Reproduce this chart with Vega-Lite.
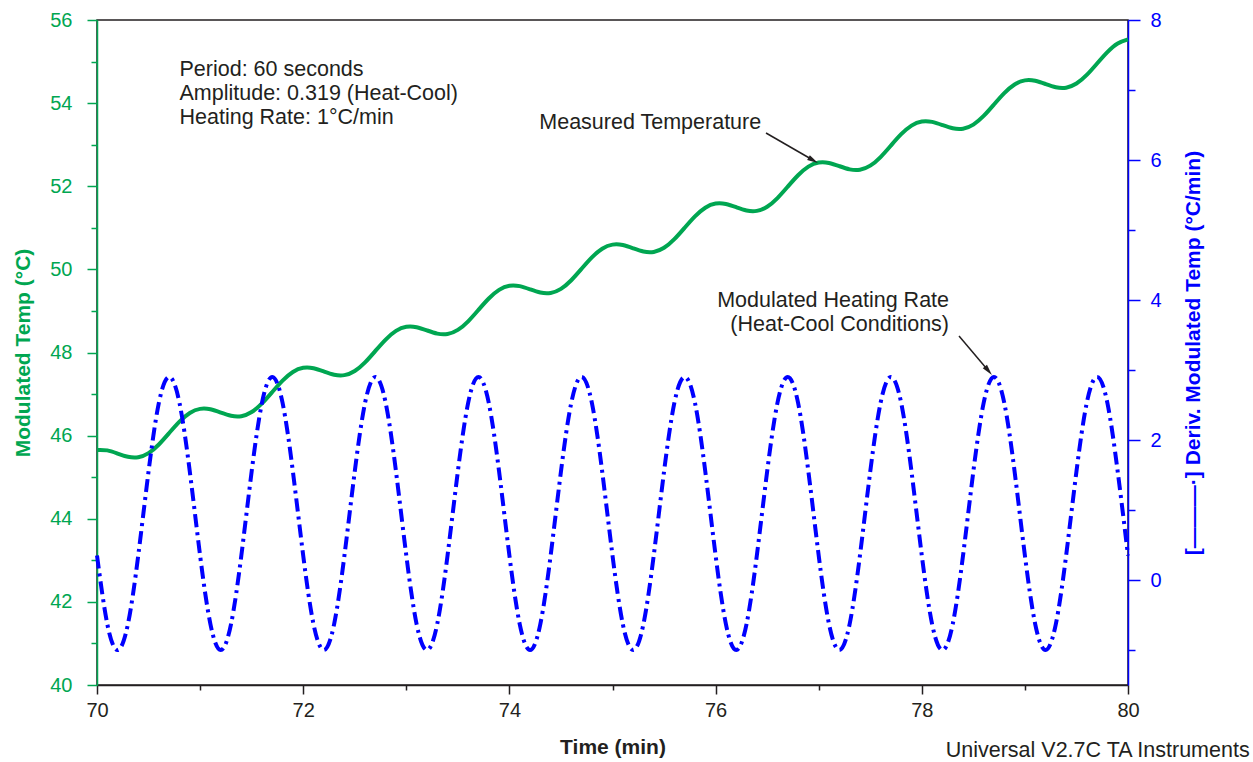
{
  "$schema": "https://vega.github.io/schema/vega-lite/v6.json",
  "width": 1031,
  "height": 665,
  "autosize": {"type": "none"},
  "padding": {"left": 97, "top": 20, "right": 125, "bottom": 77},
  "background": "white",
  "config": {
    "font": "Liberation Sans",
    "view": {"stroke": "#231F20", "strokeWidth": 1.5},
    "axis": {"grid": false, "labelFont": "Liberation Sans", "titleFont": "Liberation Sans"}
  },
  "datasets": {
    "curves": [
      {"t": 70.0, "temp": 45.655, "rate": 0.35},
      {"t": 70.1, "temp": 45.645, "rate": -0.63},
      {"t": 70.2, "temp": 45.568, "rate": -1.0},
      {"t": 70.3, "temp": 45.490, "rate": -0.63},
      {"t": 70.4, "temp": 45.480, "rate": 0.35},
      {"t": 70.5, "temp": 45.579, "rate": 1.55},
      {"t": 70.6, "temp": 45.787, "rate": 2.53},
      {"t": 70.7, "temp": 46.062, "rate": 2.9},
      {"t": 70.8, "temp": 46.336, "rate": 2.53},
      {"t": 70.9, "temp": 46.544, "rate": 1.55},
      {"t": 71.0, "temp": 46.643, "rate": 0.35},
      {"t": 71.1, "temp": 46.633, "rate": -0.63},
      {"t": 71.2, "temp": 46.556, "rate": -1.0},
      {"t": 71.3, "temp": 46.478, "rate": -0.63},
      {"t": 71.4, "temp": 46.468, "rate": 0.35},
      {"t": 71.5, "temp": 46.567, "rate": 1.55},
      {"t": 71.6, "temp": 46.775, "rate": 2.53},
      {"t": 71.7, "temp": 47.050, "rate": 2.9},
      {"t": 71.8, "temp": 47.324, "rate": 2.53},
      {"t": 71.9, "temp": 47.532, "rate": 1.55},
      {"t": 72.0, "temp": 47.631, "rate": 0.35},
      {"t": 72.1, "temp": 47.621, "rate": -0.63},
      {"t": 72.2, "temp": 47.544, "rate": -1.0},
      {"t": 72.3, "temp": 47.466, "rate": -0.63},
      {"t": 72.4, "temp": 47.456, "rate": 0.35},
      {"t": 72.5, "temp": 47.555, "rate": 1.55},
      {"t": 72.6, "temp": 47.763, "rate": 2.53},
      {"t": 72.7, "temp": 48.038, "rate": 2.9},
      {"t": 72.8, "temp": 48.312, "rate": 2.53},
      {"t": 72.9, "temp": 48.520, "rate": 1.55},
      {"t": 73.0, "temp": 48.619, "rate": 0.35},
      {"t": 73.1, "temp": 48.609, "rate": -0.63},
      {"t": 73.2, "temp": 48.532, "rate": -1.0},
      {"t": 73.3, "temp": 48.454, "rate": -0.63},
      {"t": 73.4, "temp": 48.444, "rate": 0.35},
      {"t": 73.5, "temp": 48.543, "rate": 1.55},
      {"t": 73.6, "temp": 48.751, "rate": 2.53},
      {"t": 73.7, "temp": 49.026, "rate": 2.9},
      {"t": 73.8, "temp": 49.300, "rate": 2.53},
      {"t": 73.9, "temp": 49.508, "rate": 1.55},
      {"t": 74.0, "temp": 49.607, "rate": 0.35},
      {"t": 74.1, "temp": 49.597, "rate": -0.63},
      {"t": 74.2, "temp": 49.520, "rate": -1.0},
      {"t": 74.3, "temp": 49.442, "rate": -0.63},
      {"t": 74.4, "temp": 49.432, "rate": 0.35},
      {"t": 74.5, "temp": 49.531, "rate": 1.55},
      {"t": 74.6, "temp": 49.739, "rate": 2.53},
      {"t": 74.7, "temp": 50.014, "rate": 2.9},
      {"t": 74.8, "temp": 50.288, "rate": 2.53},
      {"t": 74.9, "temp": 50.496, "rate": 1.55},
      {"t": 75.0, "temp": 50.595, "rate": 0.35},
      {"t": 75.1, "temp": 50.585, "rate": -0.63},
      {"t": 75.2, "temp": 50.508, "rate": -1.0},
      {"t": 75.3, "temp": 50.430, "rate": -0.63},
      {"t": 75.4, "temp": 50.420, "rate": 0.35},
      {"t": 75.5, "temp": 50.519, "rate": 1.55},
      {"t": 75.6, "temp": 50.727, "rate": 2.53},
      {"t": 75.7, "temp": 51.002, "rate": 2.9},
      {"t": 75.8, "temp": 51.276, "rate": 2.53},
      {"t": 75.9, "temp": 51.484, "rate": 1.55},
      {"t": 76.0, "temp": 51.583, "rate": 0.35},
      {"t": 76.1, "temp": 51.573, "rate": -0.63},
      {"t": 76.2, "temp": 51.496, "rate": -1.0},
      {"t": 76.3, "temp": 51.418, "rate": -0.63},
      {"t": 76.4, "temp": 51.408, "rate": 0.35},
      {"t": 76.5, "temp": 51.507, "rate": 1.55},
      {"t": 76.6, "temp": 51.715, "rate": 2.53},
      {"t": 76.7, "temp": 51.990, "rate": 2.9},
      {"t": 76.8, "temp": 52.264, "rate": 2.53},
      {"t": 76.9, "temp": 52.472, "rate": 1.55},
      {"t": 77.0, "temp": 52.571, "rate": 0.35},
      {"t": 77.1, "temp": 52.561, "rate": -0.63},
      {"t": 77.2, "temp": 52.484, "rate": -1.0},
      {"t": 77.3, "temp": 52.406, "rate": -0.63},
      {"t": 77.4, "temp": 52.396, "rate": 0.35},
      {"t": 77.5, "temp": 52.495, "rate": 1.55},
      {"t": 77.6, "temp": 52.703, "rate": 2.53},
      {"t": 77.7, "temp": 52.978, "rate": 2.9},
      {"t": 77.8, "temp": 53.252, "rate": 2.53},
      {"t": 77.9, "temp": 53.460, "rate": 1.55},
      {"t": 78.0, "temp": 53.559, "rate": 0.35},
      {"t": 78.1, "temp": 53.549, "rate": -0.63},
      {"t": 78.2, "temp": 53.472, "rate": -1.0},
      {"t": 78.3, "temp": 53.394, "rate": -0.63},
      {"t": 78.4, "temp": 53.384, "rate": 0.35},
      {"t": 78.5, "temp": 53.483, "rate": 1.55},
      {"t": 78.6, "temp": 53.691, "rate": 2.53},
      {"t": 78.7, "temp": 53.966, "rate": 2.9},
      {"t": 78.8, "temp": 54.240, "rate": 2.53},
      {"t": 78.9, "temp": 54.448, "rate": 1.55},
      {"t": 79.0, "temp": 54.547, "rate": 0.35},
      {"t": 79.1, "temp": 54.537, "rate": -0.63},
      {"t": 79.2, "temp": 54.460, "rate": -1.0},
      {"t": 79.3, "temp": 54.382, "rate": -0.63},
      {"t": 79.4, "temp": 54.372, "rate": 0.35},
      {"t": 79.5, "temp": 54.471, "rate": 1.55},
      {"t": 79.6, "temp": 54.679, "rate": 2.53},
      {"t": 79.7, "temp": 54.954, "rate": 2.9},
      {"t": 79.8, "temp": 55.228, "rate": 2.53},
      {"t": 79.9, "temp": 55.436, "rate": 1.55},
      {"t": 80.0, "temp": 55.535, "rate": 0.35}
    ],
    "tempNotesLeft": [
      {"t": 70.80, "temp": 54.653, "label": "Period: 60 seconds"},
      {"t": 70.80, "temp": 54.075, "label": "Amplitude: 0.319 (Heat-Cool)"},
      {"t": 70.80, "temp": 53.498, "label": "Heating Rate: 1°C/min"},
      {"t": 74.29, "temp": 53.377, "label": "Measured Temperature"}
    ],
    "tempNotesRight": [
      {"t": 81.18, "temp": 38.27, "label": "Universal V2.7C TA Instruments"}
    ],
    "rateNotes": [
      {"t": 78.264, "rate": 3.90, "label": "Modulated Heating Rate"},
      {"t": 78.264, "rate": 3.557, "label": "(Heat-Cool Conditions)"}
    ],
    "arrowTemp": [
      {"t": 76.489, "temp": 53.281, "t2": 76.947, "temp2": 52.625}
    ],
    "arrowRate": [
      {"t": 78.361, "rate": 3.486, "t2": 78.646, "rate2": 2.989}
    ]
  },
  "layer": [
    {
      "layer": [
        {
          "data": {"name": "curves"},
          "mark": {"type": "line", "color": "#00A651", "strokeWidth": 4, "interpolate": "natural"},
          "encoding": {
            "x": {
              "field": "t", "type": "quantitative",
              "scale": {"domain": [70, 80], "nice": false, "zero": false},
              "axis": {
                "title": "Time (min)",
                "values": [70, 71, 72, 73, 74, 75, 76, 77, 78, 79, 80],
                "format": "d",
                "labelExpr": "datum.value % 2 === 0 ? datum.label : ''",
                "tickSize": {"condition": {"test": "datum.value % 2 === 0", "value": 9}, "value": 5},
                "tickWidth": 1.5, "domainWidth": 1.5,
                "domainColor": "#231F20", "tickColor": "#231F20",
                "labelColor": "#231F20", "titleColor": "#231F20",
                "labelFontSize": 20, "titleFontSize": 21, "titleFontWeight": "bold",
                "labelPadding": 6, "titlePadding": 16, "labelFlush": false, "labelOverlap": false
              }
            },
            "y": {
              "field": "temp", "type": "quantitative",
              "scale": {"domain": [40, 56], "nice": false, "zero": false},
              "axis": {
                "orient": "left",
                "title": "Modulated Temp (°C)",
                "values": [40, 41, 42, 43, 44, 45, 46, 47, 48, 49, 50, 51, 52, 53, 54, 55, 56],
                "format": "d",
                "labelExpr": "datum.value % 2 === 0 ? datum.label : ''",
                "tickSize": {"condition": {"test": "datum.value % 2 === 0", "value": 10}, "value": 6},
                "tickWidth": 1.5, "domainWidth": 1.5,
                "domainColor": "#00A651", "tickColor": "#00A651",
                "labelColor": "#00A651", "titleColor": "#00A651",
                "labelFontSize": 20, "titleFontSize": 21, "titleFontWeight": "bold",
                "labelPadding": 15, "titlePadding": 16, "labelFlush": false, "labelOverlap": false
              }
            }
          }
        },
        {
          "data": {"name": "tempNotesLeft"},
          "mark": {"type": "text", "align": "left", "baseline": "alphabetic", "fontSize": 21.5, "color": "#231F20"},
          "encoding": {
            "x": {"field": "t", "type": "quantitative"},
            "y": {"field": "temp", "type": "quantitative"},
            "text": {"field": "label"}
          }
        },
        {
          "data": {"name": "tempNotesRight"},
          "mark": {"type": "text", "align": "right", "baseline": "alphabetic", "fontSize": 21.5, "color": "#231F20"},
          "encoding": {
            "x": {"field": "t", "type": "quantitative"},
            "y": {"field": "temp", "type": "quantitative"},
            "text": {"field": "label"}
          }
        },
        {
          "data": {"name": "arrowTemp"},
          "mark": {"type": "rule", "color": "#231F20", "strokeWidth": 1.5},
          "encoding": {
            "x": {"field": "t", "type": "quantitative"},
            "x2": {"field": "t2"},
            "y": {"field": "temp", "type": "quantitative"},
            "y2": {"field": "temp2"}
          }
        },
        {
          "data": {"name": "arrowTemp"},
          "mark": {"type": "point", "shape": "M0,-1L0.5,1L-0.5,1Z", "filled": true, "size": 120, "color": "#231F20", "opacity": 1, "angle": 120},
          "encoding": {
            "x": {"field": "t2", "type": "quantitative"},
            "y": {"field": "temp2", "type": "quantitative"}
          }
        }
      ]
    },
    {
      "layer": [
        {
          "data": {"name": "curves"},
          "mark": {"type": "line", "color": "#0000FF", "strokeWidth": 4, "strokeDash": [13, 5, 3, 5], "interpolate": "natural"},
          "encoding": {
            "x": {"field": "t", "type": "quantitative", "scale": {"domain": [70, 80], "nice": false, "zero": false}},
            "y": {
              "field": "rate", "type": "quantitative",
              "scale": {"domain": [-1.5, 8], "nice": false, "zero": false},
              "axis": {
                "orient": "right",
                "title": "[———·] Deriv. Modulated Temp (°C/min)",
                "titleAngle": 270,
                "values": [-1, 0, 1, 2, 3, 4, 5, 6, 7, 8],
                "format": "d",
                "labelExpr": "datum.value % 2 === 0 ? datum.label : ''",
                "tickSize": {"condition": {"test": "datum.value % 2 === 0", "value": 12}, "value": 7},
                "tickWidth": 1.5, "domainWidth": 1.5,
                "domainColor": "#0000FF", "tickColor": "#0000FF",
                "labelColor": "#0000FF", "titleColor": "#0000FF",
                "labelFontSize": 20, "titleFontSize": 21, "titleFontWeight": "bold",
                "labelPadding": 10, "titlePadding": 42, "labelFlush": false, "labelOverlap": false
              }
            }
          }
        },
        {
          "data": {"name": "rateNotes"},
          "mark": {"type": "text", "align": "right", "baseline": "alphabetic", "fontSize": 21.5, "color": "#231F20"},
          "encoding": {
            "x": {"field": "t", "type": "quantitative"},
            "y": {"field": "rate", "type": "quantitative"},
            "text": {"field": "label"}
          }
        },
        {
          "data": {"name": "arrowRate"},
          "mark": {"type": "rule", "color": "#231F20", "strokeWidth": 1.5},
          "encoding": {
            "x": {"field": "t", "type": "quantitative"},
            "x2": {"field": "t2"},
            "y": {"field": "rate", "type": "quantitative"},
            "y2": {"field": "rate2"}
          }
        },
        {
          "data": {"name": "arrowRate"},
          "mark": {"type": "point", "shape": "M0,-1L0.5,1L-0.5,1Z", "filled": true, "size": 120, "color": "#231F20", "opacity": 1, "angle": 140},
          "encoding": {
            "x": {"field": "t2", "type": "quantitative"},
            "y": {"field": "rate2", "type": "quantitative"}
          }
        }
      ]
    }
  ],
  "resolve": {"scale": {"y": "independent"}}
}
